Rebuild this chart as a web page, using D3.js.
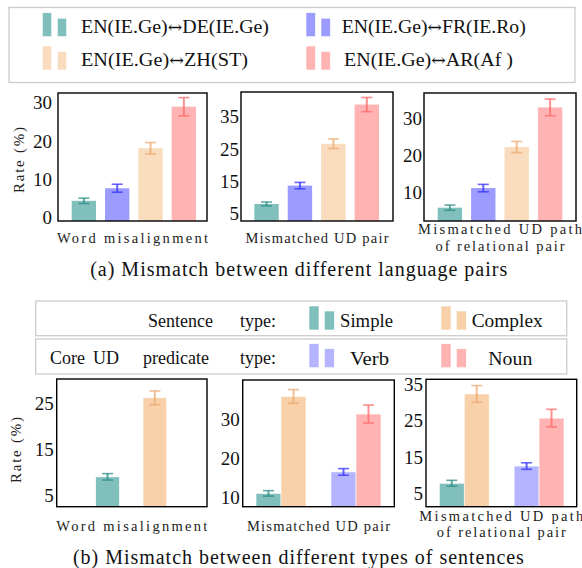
<!DOCTYPE html>
<html><head><meta charset="utf-8">
<script src="https://cdn.jsdelivr.net/npm/d3@7"></script>
<style>body{margin:0;background:#fff}svg{display:block}</style>
</head><body><svg id="c" width="582" height="568"></svg>
<script>
// ---------- data ----------
const categories = ["Word misalignment", "Mismatched UD pair", "Mismatched UD path|of relational pair"];
const pairsLeft = ["EN(IE.Ge)", "EN(IE.Ge)", "EN(IE.Ge)", "EN(IE.Ge)"];
const pairsRight = ["DE(IE.Ge)", "FR(IE.Ro)", "ZH(ST)", "AR(Af )"];
const arrow = "↔";
// values per pair, one value per category (top row)
const deValues = [4.3, 7.9, 5.8];
const frValues = [7.6, 13.6, 11.1];
const zhValues = [18.1, 26.6, 22.2];
const arValues = [29.0, 38.8, 32.9];
const deErr = [0.7, 0.6, 0.7];
const frErr = [1.05, 1.0, 1.0];
const zhErr = [1.5, 1.5, 1.5];
const arErr = [2.4, 2.2, 2.25];
// bottom row
const sentenceTypes = ["Simple", "Complex"];
const predicateTypes = ["Verb", "Noun"];
const simpleValues = [9.0, 11.1, 7.9];
const complexValues = [26.2, 35.9, 32.3];
const verbValues = [null, 16.6, 12.6];
const nounValues = [null, 31.4, 25.7];
const simpleErr = [0.7, 0.7, 0.8];
const complexErr = [1.5, 1.75, 2.3];
const verbErr = [null, 0.85, 0.9];
const nounErr = [null, 2.3, 2.4];
const topTicks = [[0, 10, 20, 30], [5, 15, 25, 35], [10, 20, 30]];
const bottomTicks = [[5, 15, 25], [10, 20, 30], [5, 15, 25, 35]];
const topDomains = [[-1, 32.6], [2.6, 42.7], [2.2, 36.8]];
const bottomDomains = [[2.5, 30.3], [7.7, 40.1], [1.5, 36.3]];
const yLabel = "Rate (%)";
const captionA = "(a) Mismatch between different language pairs";
const captionB = "(b) Mismatch between different types of sentences";
const legendBRow1 = ["Sentence", "type:"];
const legendBRow2 = ["Core", "UD", "predicate", "type:"];

// ---------- style ----------
const FONT = '"Liberation Serif", "Times New Roman", serif';
const colTop = {DE: "#80bfbc", FR: "#9c9cff", ZH: "#f9dbbd", AR: "#ffb3b3"};
const errTop = {DE: "#2e8e88", FR: "#3434ff", ZH: "#eeaa70", AR: "#ff6a6a"};
const colBot = {Simple: "#80bfbc", Complex: "#f8d0a9", Verb: "#b4b4ff", Noun: "#ffb3b3"};
const errBot = {Simple: "#2e8e88", Complex: "#eeaa70", Verb: "#3434ff", Noun: "#ff6a6a"};

const svg = d3.select("#c");
function txt(sel) { return sel.append("text").style("font-family", FONT); }

// ---------- layout ----------
const topFrames = [[58, 207, 93, 221], [241, 393, 92, 221], [424, 576, 93, 221]];
const topBarRange = [[71.7, 196], [254.3, 379], [437.7, 562.3]];
const botFrames = [[56.7, 207, 379, 506.7], [242.7, 394.3, 380, 506.7], [426, 576.7, 379.3, 506.7]];
const botBarRange = [[95.7, 166.7], [256, 381], [439.3, 564]];
const botSlots = [["Simple", "_g", "Complex"], ["Simple", "Complex", "_g", "Verb", "Noun"], ["Simple", "Complex", "_g", "Verb", "Noun"]];

function errbar(g, x, y, v, e, w, color) {
  const x0 = x(v.k) + x.bandwidth() / 2;
  g.append("line").attr("x1", x0).attr("x2", x0).attr("y1", y(v.v - e)).attr("y2", y(v.v + e))
    .attr("stroke", color).attr("stroke-width", 2).attr("opacity", 0.75);
  [v.v - e, v.v + e].forEach(t => g.append("line").attr("x1", x0 - w / 2).attr("x2", x0 + w / 2)
    .attr("y1", y(t)).attr("y2", y(t)).attr("stroke", color).attr("stroke-width", 1.6).attr("opacity", 0.75));
}

function panel(frame, domain, ticks, pad) {
  const [x0, x1, y0, y1] = frame;
  const y = d3.scaleLinear().domain(domain).range([y1, y0]);
  const g = svg.append("g");
  const ax = g.append("g").attr("transform", `translate(${x0},0)`)
    .call(d3.axisLeft(y).tickValues(ticks).tickSize(0).tickPadding(pad).tickFormat(d3.format("d")));
  ax.select(".domain").remove();
  ax.selectAll("text").style("font-family", FONT).style("font-size", "19px").attr("fill", "#111");
  return {g, y};
}

function frameRect(frame) {
  const [x0, x1, y0, y1] = frame;
  svg.append("rect").attr("x", x0).attr("y", y0).attr("width", x1 - x0).attr("height", y1 - y0)
    .attr("fill", "none").attr("stroke", "#000").attr("stroke-width", 1.4);
}

function xLabel(frame, cat, yb1, yb2, widths) {
  const cx = (frame[0] + frame[1]) / 2;
  const lines = cat.split("|");
  lines.forEach((t, i) => txt(svg).attr("x", cx).attr("y", lines.length === 1 ? yb1 : (i === 0 ? yb2[0] : yb2[1]))
    .attr("text-anchor", "middle").style("font-size", "14.5px").attr("fill", "#222")
    .attr("textLength", widths[i]).attr("lengthAdjust", "spacing").text(t));
}

// ---------- top row ----------
const topSeries = [
  {key: "DE", vals: deValues, err: deErr},
  {key: "FR", vals: frValues, err: frErr},
  {key: "ZH", vals: zhValues, err: zhErr},
  {key: "AR", vals: arValues, err: arErr}];
const labelWidths = [[151], [143], [164, 129]];
categories.forEach((cat, ci) => {
  const {g, y} = panel(topFrames[ci], topDomains[ci], topTicks[ci], ci === 0 ? 6 : 2);
  const x = d3.scaleBand().domain(topSeries.map(s => s.key)).range(topBarRange[ci]).paddingInner(0.27).paddingOuter(0);
  topSeries.forEach(s => {
    const v = {k: s.key, v: s.vals[ci]};
    g.append("rect").attr("x", x(s.key)).attr("width", x.bandwidth())
      .attr("y", y(v.v)).attr("height", y(topDomains[ci][0]) - y(v.v)).attr("fill", colTop[s.key]);
    errbar(g, x, y, v, s.err[ci], 11, errTop[s.key]);
  });
  frameRect(topFrames[ci]);
  xLabel(topFrames[ci], cat, 243.3, [234.3, 250.7], labelWidths[ci]);
});

// ---------- bottom row ----------
const botSeries = {
  Simple: {vals: simpleValues, err: simpleErr},
  Complex: {vals: complexValues, err: complexErr},
  Verb: {vals: verbValues, err: verbErr},
  Noun: {vals: nounValues, err: nounErr}};
categories.forEach((cat, ci) => {
  const {g, y} = panel(botFrames[ci], bottomDomains[ci], bottomTicks[ci], 3);
  const x = d3.scaleBand().domain(botSlots[ci]).range(botBarRange[ci]).padding(0);
  botSlots[ci].filter(k => k !== "_g").forEach(k => {
    const val = botSeries[k].vals[ci];
    if (val == null) return;
    const v = {k, v: val};
    g.append("rect").attr("x", x(k)).attr("width", x.bandwidth())
      .attr("y", y(val)).attr("height", y(bottomDomains[ci][0]) - y(val)).attr("fill", colBot[k])
      .attr("stroke", "#fff").attr("stroke-width", 0.6);
    errbar(g, x, y, v, botSeries[k].err[ci], 11, errBot[k]);
  });
  frameRect(botFrames[ci]);
  xLabel(botFrames[ci], cat, 531, [520.7, 537.3], labelWidths[ci]);
});

// ---------- y labels ----------
[[19, 160], [15.7, 450]].forEach(([lx, ly]) => {
  txt(svg).attr("transform", `translate(${lx + 5},${ly}) rotate(-90)`)
    .attr("text-anchor", "middle").style("font-size", "15px").attr("fill", "#222")
    .attr("textLength", 66).attr("lengthAdjust", "spacing").text(yLabel);
});

// ---------- captions ----------
txt(svg).attr("x", 298.7).attr("y", 276).attr("text-anchor", "middle")
  .style("font-size", "20px").attr("fill", "#111").attr("textLength", 417).text(captionA);
txt(svg).attr("x", 298.4).attr("y", 563.5).attr("text-anchor", "middle")
  .style("font-size", "20px").attr("fill", "#111").attr("textLength", 451).text(captionB);

// ---------- legend (a) ----------
svg.append("rect").attr("x", 9).attr("y", 7.5).attr("width", 566).attr("height", 75)
  .attr("fill", "#fff").attr("stroke", "#ccc").attr("stroke-width", 1.3);
const legA = [
  {key: "DE", sx: 42.3, tx: 81, ty: 33.3, row: 0, w: 188},
  {key: "FR", sx: 306, tx: 341.7, ty: 33.3, row: 0, w: 184},
  {key: "ZH", sx: 42.3, tx: 81, ty: 65.7, row: 1, w: 167},
  {key: "AR", sx: 306, tx: 344, ty: 65.7, row: 1, w: 169}];
legA.forEach((d, i) => {
  const base = d.row === 0 ? 36.7 : 70;
  svg.append("rect").attr("x", d.sx).attr("y", base - 24).attr("width", 9.4).attr("height", 24)
    .attr("fill", colTop[d.key]).attr("stroke", "#fff").attr("stroke-width", 0.6);
  svg.append("rect").attr("x", d.sx + 15).attr("y", base - 18.5).attr("width", 9.4).attr("height", 18.5)
    .attr("fill", colTop[d.key]).attr("stroke", "#fff").attr("stroke-width", 0.6);
  const t = txt(svg).attr("x", d.tx).attr("y", d.ty).style("font-size", "19.5px")
    .attr("fill", "#111").attr("textLength", d.w).attr("lengthAdjust", "spacingAndGlyphs");
  t.append("tspan").text(pairsLeft[i]);
  t.append("tspan").style("font-family", '"DejaVu Serif", serif').style("font-size", "17px").text(arrow);
  t.append("tspan").text(pairsRight[i]);
});

// ---------- legend (b) ----------
svg.append("rect").attr("x", 35.7).attr("y", 301).attr("width", 531).attr("height", 34.7)
  .attr("fill", "#fff").attr("stroke", "#ccc").attr("stroke-width", 1.3);
svg.append("rect").attr("x", 35.7).attr("y", 339).attr("width", 531).attr("height", 35)
  .attr("fill", "#fff").attr("stroke", "#ccc").attr("stroke-width", 1.3);
const row1X = [148, 240], row2X = [50, 93, 143, 240];
legendBRow1.forEach((t, i) => txt(svg).attr("x", row1X[i]).attr("y", 327)
  .style("font-size", "18px").attr("fill", "#111").text(t));
legendBRow2.forEach((t, i) => txt(svg).attr("x", row2X[i]).attr("y", 364)
  .style("font-size", "18px").attr("fill", "#111").text(t));
const legB = [
  {key: "Simple", sx: 309, tx: 340, base: 330, w: 53},
  {key: "Complex", sx: 441, tx: 471.7, base: 330, w: 71},
  {key: "Verb", sx: 309, tx: 350, base: 367.7, w: 39},
  {key: "Noun", sx: 441, tx: 488.3, base: 367.7, w: 44}];
legB.forEach(d => {
  svg.append("rect").attr("x", d.sx).attr("y", d.base - 24).attr("width", 10).attr("height", 24)
    .attr("fill", colBot[d.key]).attr("stroke", "#fff").attr("stroke-width", 0.6);
  svg.append("rect").attr("x", d.sx + 15.3).attr("y", d.base - 19).attr("width", 10).attr("height", 19)
    .attr("fill", colBot[d.key]).attr("stroke", "#fff").attr("stroke-width", 0.6);
  txt(svg).attr("x", d.tx).attr("y", d.base - 3).style("font-size", "18px")
    .attr("fill", "#111").attr("textLength", d.w).attr("lengthAdjust", "spacingAndGlyphs").text(d.key);
});
</script></body></html>
